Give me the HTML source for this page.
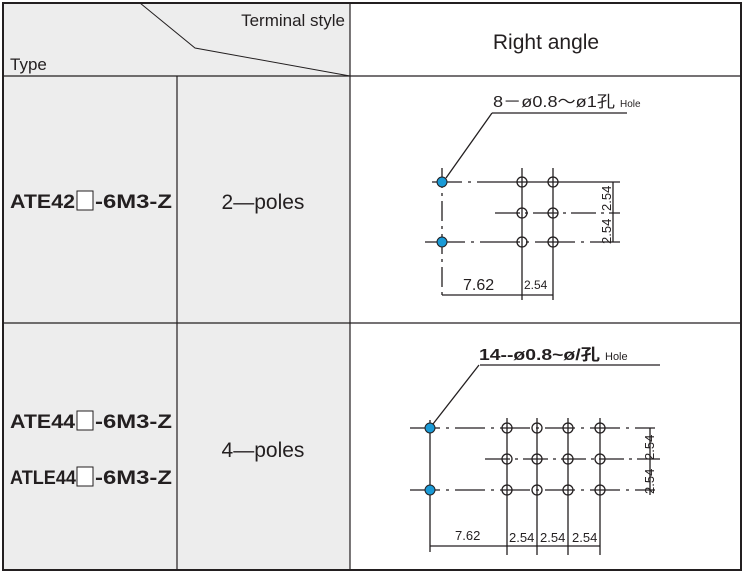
<!DOCTYPE html>
<html><head><meta charset="utf-8"><style>
body{margin:0;background:#fff;}
svg{display:block;}
text{font-family:"Liberation Sans","Noto Sans CJK SC",sans-serif;fill:#231f20;}
</style></head><body>
<svg width="745" height="575" viewBox="0 0 745 575" xmlns="http://www.w3.org/2000/svg">
<rect x="3" y="3" width="347" height="567" fill="#ededed"/>
<g stroke="#231f20" fill="none">
<rect x="3" y="3" width="738" height="567" stroke-width="2"/>
<line x1="3" y1="76" x2="741" y2="76" stroke-width="1.2"/>
<line x1="3" y1="323" x2="741" y2="323" stroke-width="1.2"/>
<line x1="350" y1="3" x2="350" y2="570" stroke-width="1.2"/>
<line x1="177" y1="76" x2="177" y2="570" stroke-width="1.2"/>
<polyline points="140,3 195,48 350,76" stroke-width="1"/>
</g>
<text x="345" y="26" font-size="17" text-anchor="end">Terminal style</text>
<text x="10" y="70" font-size="17">Type</text>
<text x="546" y="49" font-size="21" text-anchor="middle">Right angle</text>

<g font-size="19" font-weight="bold">
<text x="10" y="208" textLength="65" lengthAdjust="spacingAndGlyphs">ATE42</text>
<text x="95" y="208" textLength="77" lengthAdjust="spacingAndGlyphs">-6M3-Z</text>
<text x="10" y="428" textLength="65" lengthAdjust="spacingAndGlyphs">ATE44</text>
<text x="95" y="428" textLength="77" lengthAdjust="spacingAndGlyphs">-6M3-Z</text>
<text x="10" y="484" textLength="66" lengthAdjust="spacingAndGlyphs">ATLE44</text>
<text x="95" y="484" textLength="77" lengthAdjust="spacingAndGlyphs">-6M3-Z</text>
</g>
<g fill="#fff" stroke="#231f20" stroke-width="1">
<rect x="77" y="191" width="16" height="19"/>
<rect x="77" y="411" width="16" height="19"/>
<rect x="77" y="467" width="16" height="19"/>
</g>
<text x="263" y="209" font-size="21" text-anchor="middle">2—poles</text>
<text x="263" y="457" font-size="21" text-anchor="middle">4—poles</text>

<!-- Drawing 1 -->
<g stroke="#231f20" fill="none" stroke-width="1.3">
<line x1="492" y1="113" x2="627" y2="113"/>
<line x1="492" y1="113" x2="446" y2="178"/>
<line x1="432" y1="182" x2="490" y2="182" stroke-dasharray="30,6,3,6"/>
<line x1="490" y1="182" x2="620" y2="182"/>
<line x1="495" y1="213" x2="620" y2="213" stroke-dasharray="25,5,3,5"/>
<line x1="425" y1="242" x2="620" y2="242" stroke-dasharray="40,6,3,6"/>
<line x1="442" y1="168" x2="442" y2="300" stroke-dasharray="20,5,3,5"/>
<line x1="522" y1="168" x2="522" y2="300"/>
<line x1="553" y1="168" x2="553" y2="300"/>
<line x1="613" y1="182" x2="613" y2="242"/>
<line x1="442" y1="295" x2="553" y2="295"/>
<circle cx="522" cy="182" r="5"/><circle cx="553" cy="182" r="5"/>
<circle cx="522" cy="213" r="5"/><circle cx="553" cy="213" r="5"/>
<circle cx="522" cy="242" r="5"/><circle cx="553" cy="242" r="5"/>
</g>
<circle cx="442" cy="182" r="5" fill="#1a9ad6" stroke="#231f20"/>
<circle cx="442" cy="242" r="5" fill="#1a9ad6" stroke="#231f20"/>
<text x="493" y="107" font-size="16" textLength="122" lengthAdjust="spacingAndGlyphs">8－ø0.8～ø1孔</text>
<text x="620" y="107" font-size="10">Hole</text>
<text x="463" y="290" font-size="16">7.62</text>
<text x="524" y="289" font-size="12">2.54</text>
<text transform="translate(611,211) rotate(-90)" font-size="13">2.54</text>
<text transform="translate(611,244) rotate(-90)" font-size="13">2.54</text>

<!-- Drawing 2 -->
<g stroke="#231f20" fill="none" stroke-width="1.3">
<line x1="480" y1="365" x2="660" y2="365"/>
<line x1="479" y1="365" x2="433" y2="424"/>
<line x1="410" y1="428" x2="655" y2="428" stroke-dasharray="30,6,3,6"/>
<line x1="485" y1="459" x2="660" y2="459" stroke-dasharray="25,5,3,5"/>
<line x1="410" y1="490" x2="655" y2="490" stroke-dasharray="30,6,3,6"/>
<line x1="430" y1="420" x2="430" y2="552"/>
<line x1="507" y1="418" x2="507" y2="555"/>
<line x1="537" y1="418" x2="537" y2="555"/>
<line x1="568" y1="418" x2="568" y2="555"/>
<line x1="600" y1="418" x2="600" y2="555"/>
<line x1="650" y1="428" x2="650" y2="495"/>
<line x1="430" y1="546" x2="600" y2="546"/>
<circle cx="507" cy="428" r="5"/><circle cx="537" cy="428" r="5"/><circle cx="568" cy="428" r="5"/><circle cx="600" cy="428" r="5"/>
<circle cx="507" cy="459" r="5"/><circle cx="537" cy="459" r="5"/><circle cx="568" cy="459" r="5"/><circle cx="600" cy="459" r="5"/>
<circle cx="507" cy="490" r="5"/><circle cx="537" cy="490" r="5"/><circle cx="568" cy="490" r="5"/><circle cx="600" cy="490" r="5"/>
</g>
<circle cx="430" cy="428" r="5" fill="#1a9ad6" stroke="#231f20"/>
<circle cx="430" cy="490" r="5" fill="#1a9ad6" stroke="#231f20"/>
<text x="479" y="360" font-size="16" font-weight="bold" textLength="121" lengthAdjust="spacingAndGlyphs">14--ø0.8~ø/孔</text>
<text x="605" y="360" font-size="11">Hole</text>
<text x="455" y="540" font-size="13">7.62</text>
<text x="509" y="542" font-size="13">2.54</text>
<text x="540" y="542" font-size="13">2.54</text>
<text x="572" y="542" font-size="13">2.54</text>
<text transform="translate(654,460) rotate(-90)" font-size="13">2.54</text>
<text transform="translate(654,494) rotate(-90)" font-size="13">2.54</text>
</svg>
</body></html>
